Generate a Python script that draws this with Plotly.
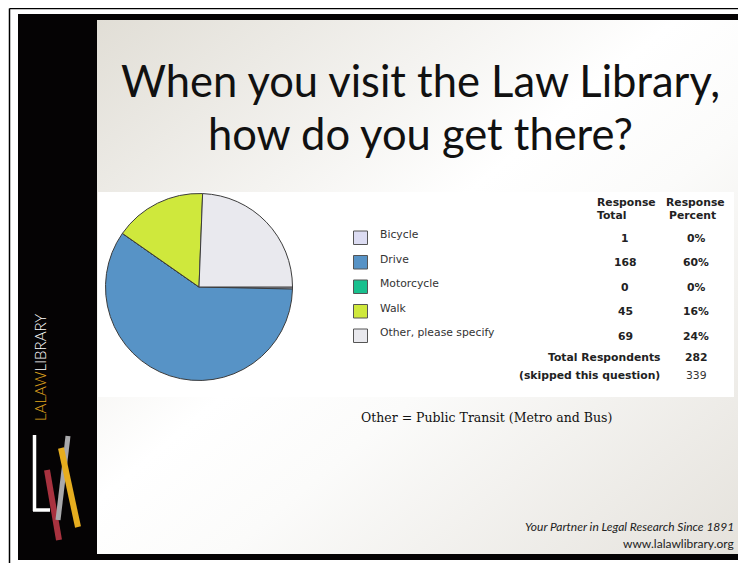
import base64
import plotly.graph_objects as go

# ---- data ----
categories = ["Bicycle", "Drive", "Motorcycle", "Walk", "Other, please specify"]
response_total = [1, 168, 0, 45, 69]
response_percent = ["0%", "60%", "0%", "16%", "24%"]
slice_colors = ["#dcdcf2", "#5793c6", "#19c08e", "#cfe83c", "#e9e9ee"]
total_respondents = 282
skipped = 339

# the page body has an 8px margin, so the figure is drawn 8px in from the corner
OFF = 8
W, H = 746 - OFF, 563 - OFF


def px(x):
    return (x - OFF) / W


def py(y):
    return 1 - (y - OFF) / H


fig = go.Figure()

# pie: centre (199, 287), radius ~93.5 px (page coordinates)
cx, cy, r = 199, 287, 93.5
fig.add_trace(go.Pie(
    labels=categories, values=response_total, sort=False,
    direction="clockwise", rotation=90,
    marker=dict(colors=slice_colors, line=dict(color="#3c3c3c", width=1)),
    textinfo="none", hoverinfo="label+value", showlegend=False,
    domain=dict(x=[px(cx - r), px(cx + r)], y=[py(cy + r), py(cy - r)]),
))

shapes = []
annotations = []


def rect(x0, y0, x1, y1, fill, line=None, lw=0, layer="below"):
    shapes.append(dict(type="rect", xref="paper", yref="paper",
                       x0=px(x0), x1=px(x1), y0=py(y1), y1=py(y0),
                       fillcolor=fill, line=dict(color=line or fill, width=lw),
                       layer=layer))


def seg(x0, y0, x1, y1, color, width, layer="below"):
    shapes.append(dict(type="line", xref="paper", yref="paper",
                       x0=px(x0), x1=px(x1), y0=py(y0), y1=py(y1),
                       line=dict(color=color, width=width), layer=layer))


def text(x, y, s, size=10, color="#333", family="DejaVu Sans", xanchor="left",
         angle=0, weight="normal"):
    annotations.append(dict(xref="paper", yref="paper", x=px(x), y=py(y),
                            text=s, showarrow=False, xanchor=xanchor, yanchor="middle",
                            textangle=angle,
                            font=dict(size=size, color=color, family=family, weight=weight)))


# outer thin frame lines
seg(9.5, 8.5, 746, 8.5, "#000", 1.5)
seg(9.5, 8.5, 9.5, 563, "#000", 1.5)
# thick slide border + sidebar
rect(18, 14, 97, 560, "#050304")
rect(18, 14, 746, 20, "#050304")
rect(18, 554, 746, 560, "#050304")
rect(740, 14, 746, 560, "#050304")
# white chart panel
rect(98, 192, 734, 397, "#ffffff")

# logo bars
seg(34.5, 435, 34.5, 511, "#ffffff", 3.5)
seg(33, 510, 50, 510, "#ffffff", 3.5)
seg(47, 470, 59, 540, "#a8323f", 6)
seg(68, 436, 58, 520, "#a9a9ab", 5)
seg(61, 448, 78, 527, "#e6ad1f", 6)

# background gradient image for the slide
svg = ('<svg xmlns="http://www.w3.org/2000/svg" width="643" height="534">'
       '<defs><linearGradient id="g" x1="0" y1="0" x2="1" y2="1">'
       '<stop offset="0" stop-color="#e1ded6"/><stop offset="0.45" stop-color="#ffffff"/>'
       '<stop offset="0.6" stop-color="#fbfbfa"/><stop offset="1" stop-color="#e5e2dc"/>'
       '</linearGradient></defs><rect width="643" height="534" fill="url(#g)"/></svg>')
src = "data:image/svg+xml;base64," + base64.b64encode(svg.encode()).decode()
images = [dict(source=src, xref="paper", yref="paper", x=px(97), y=py(20),
               sizex=px(740) - px(97), sizey=py(20) - py(554), sizing="stretch",
               xanchor="left", yanchor="top", layer="below")]

# title
text(420, 80, "When you visit the Law Library,", size=43.5, color="#111", family="Lato",
     xanchor="center")
text(420, 133, "how do you get there?", size=43.5, color="#111", family="Lato",
     xanchor="center")

# legend + table
row_y0, row_step = 234.5, 24.5
for i, (cat, val, pct, col) in enumerate(zip(categories, response_total, response_percent, slice_colors)):
    y = row_y0 + i * row_step
    rect(353.5, y - 3.5, 367.5, y + 10, col, line="#555", lw=1, layer="above")
    text(378, y, cat, size=10.8, color="#333")
    text(625, y + 3.5, str(val), size=10.8, color="#222", xanchor="center", weight="bold")
    text(696, y + 3.5, pct, size=10.8, color="#222", xanchor="center", weight="bold")

text(595, 202, "Response", size=10.8, color="#222", weight="bold")
text(595, 216, "Total", size=10.8, color="#222", weight="bold")
text(664, 202, "Response", size=10.8, color="#222", weight="bold")
text(667, 216, "Percent", size=10.8, color="#222", weight="bold")
text(662, 357, "Total Respondents", size=10.8, color="#222", xanchor="right", weight="bold")
text(696, 357, str(total_respondents), size=10.8, color="#222", xanchor="center", weight="bold")
text(662, 375, "(skipped this question)", size=10.8, color="#222", xanchor="right", weight="bold")
text(696, 375, str(skipped), size=10.8, color="#333", xanchor="center")

# note
text(359, 417, "Other = Public Transit (Metro and Bus)", size=12.5, color="#111",
     family="DejaVu Serif")

# footer
text(736, 526, "<i>Your Partner in Legal Research Since 1891</i>", size=12, color="#222",
     family="Lato", xanchor="right")
text(736, 543, "www.lalawlibrary.org", size=12, color="#222", family="Lato", xanchor="right")

# sidebar brand
text(40, 368, '<span style="color:#e0a61e">LALAW</span>LIBRARY', size=15, color="#ffffff",
     family="Lato", xanchor="center", angle=-90, weight=300)

fig.update_layout(
    width=W, height=H, margin=dict(l=0, r=0, t=0, b=0),
    paper_bgcolor="#ffffff", plot_bgcolor="#ffffff",
    shapes=shapes, annotations=annotations, images=images,
)

fig.write_html("out.html")
